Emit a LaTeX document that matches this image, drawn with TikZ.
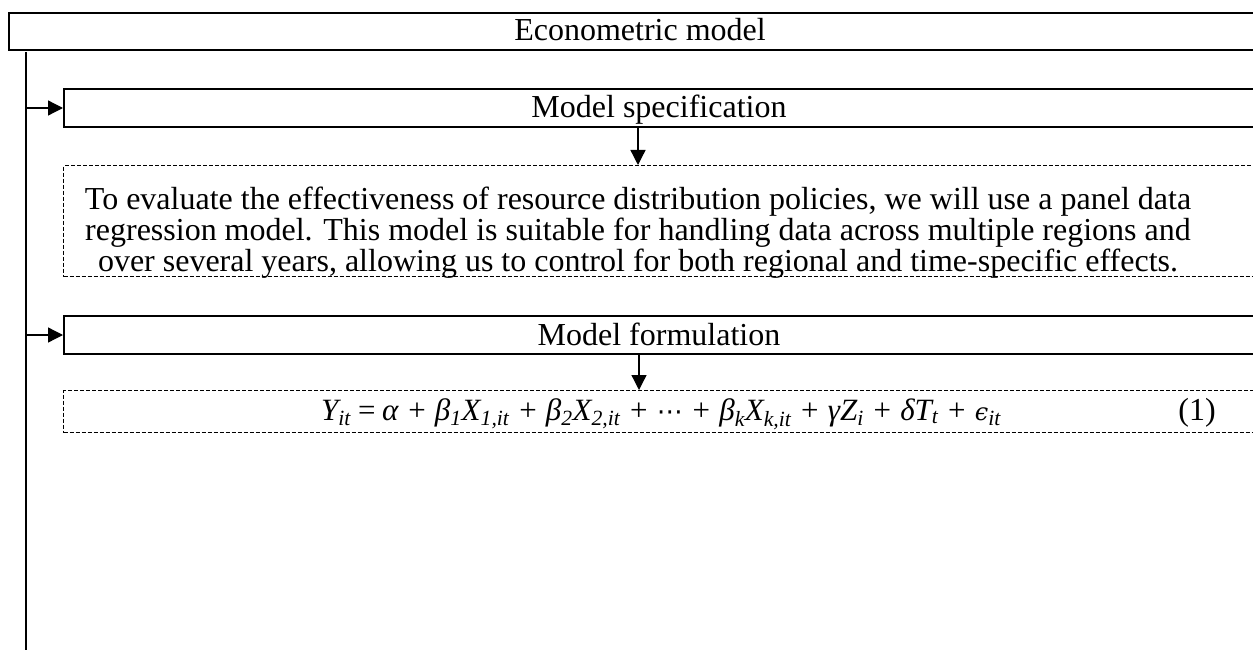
\documentclass[tikz,border=0pt]{standalone}
\usepackage{fontspec}
\setmainfont{Liberation Serif}
\newfontfamily\dvserif{DejaVu Serif}
\newfontfamily\dvsans{DejaVu Sans}
\usetikzlibrary{arrows.meta}
\newcommand{\sbs}[1]{\textsubscript{#1}}
\begin{document}
\begin{tikzpicture}[x=1pt,y=-1pt,
  solidbox/.style={draw,line width=2pt,rectangle,anchor=north west,inner sep=0pt},
  dashbox/.style={draw,line width=1.3pt,dash pattern=on 4pt off 2pt,rectangle,anchor=north west,inner sep=0pt},
  txt/.style={inner sep=0pt,font=\fontsize{32}{31}\selectfont},
  arr/.style={line width=1.3pt,-{Triangle[length=15pt,width=15pt]}},
]
\useasboundingbox (0,0) rectangle (1253,650);
\clip (0,0) rectangle (1253,650);
% title
\node[solidbox,minimum width=1250pt,minimum height=37pt] (title) at (8,12) {};
\node[txt,anchor=base] (ttext) at (640,41) {Econometric model};
% vertical line
\coordinate (vtop) at (26,52);
\coordinate (vbot) at (26,652);
\draw[line width=1.3pt] (vtop) -- (vbot);
% model specification
\node[solidbox,minimum width=1195pt,minimum height=38pt] (spec) at (63,88) {};
\node[txt,anchor=base] (stext) at (659,118) {Model specification};
\coordinate (sarrow) at (638,107);
\node[dashbox,minimum width=1195pt,minimum height=111pt] (desc) at (63,165) {};
\node[txt,align=center,anchor=base] (dtext) at (638,271) {To evaluate the effectiveness of resource distribution policies, we will use a panel data\\regression model. This model is suitable for handling data across multiple regions and\\over several years, allowing us to control for both regional and time-specific effects.};
% model formulation
\node[solidbox,minimum width=1195pt,minimum height=38pt] (form) at (63,315) {};
\node[txt,anchor=base] (ftext) at (659,345) {Model formulation};
\coordinate (farrow) at (639,334);
\node[dashbox,minimum width=1195pt,minimum height=42pt] (eqbox) at (63,390) {};
\node[txt,anchor=base west,font=\fontsize{31}{31}\selectfont] (eq) at (321,420) {\itshape Y\sbs{it}\,=\,α + β\sbs{1}X\sbs{1,it} + β\sbs{2}X\sbs{2,it} + {\dvsans\upshape\fontsize{26}{26}\selectfont ⋯} + β\sbs{k}X\sbs{k,it} + γZ\sbs{i} + δT\sbs{t} + {\dvserif\fontsize{24}{24}\selectfont ϵ}\sbs{it}};
\node[txt,anchor=base] (eqnum) at (1197,420) {(1)};
% connectors
\draw[arr] (spec.west -| vtop) -- (spec.west);
\draw[arr] (form.west -| vtop) -- (form.west);
\draw[arr] (sarrow |- spec.south) -- (sarrow |- desc.north);
\draw[arr] (farrow |- form.south) -- (farrow |- eqbox.north);
\end{tikzpicture}
\end{document}
